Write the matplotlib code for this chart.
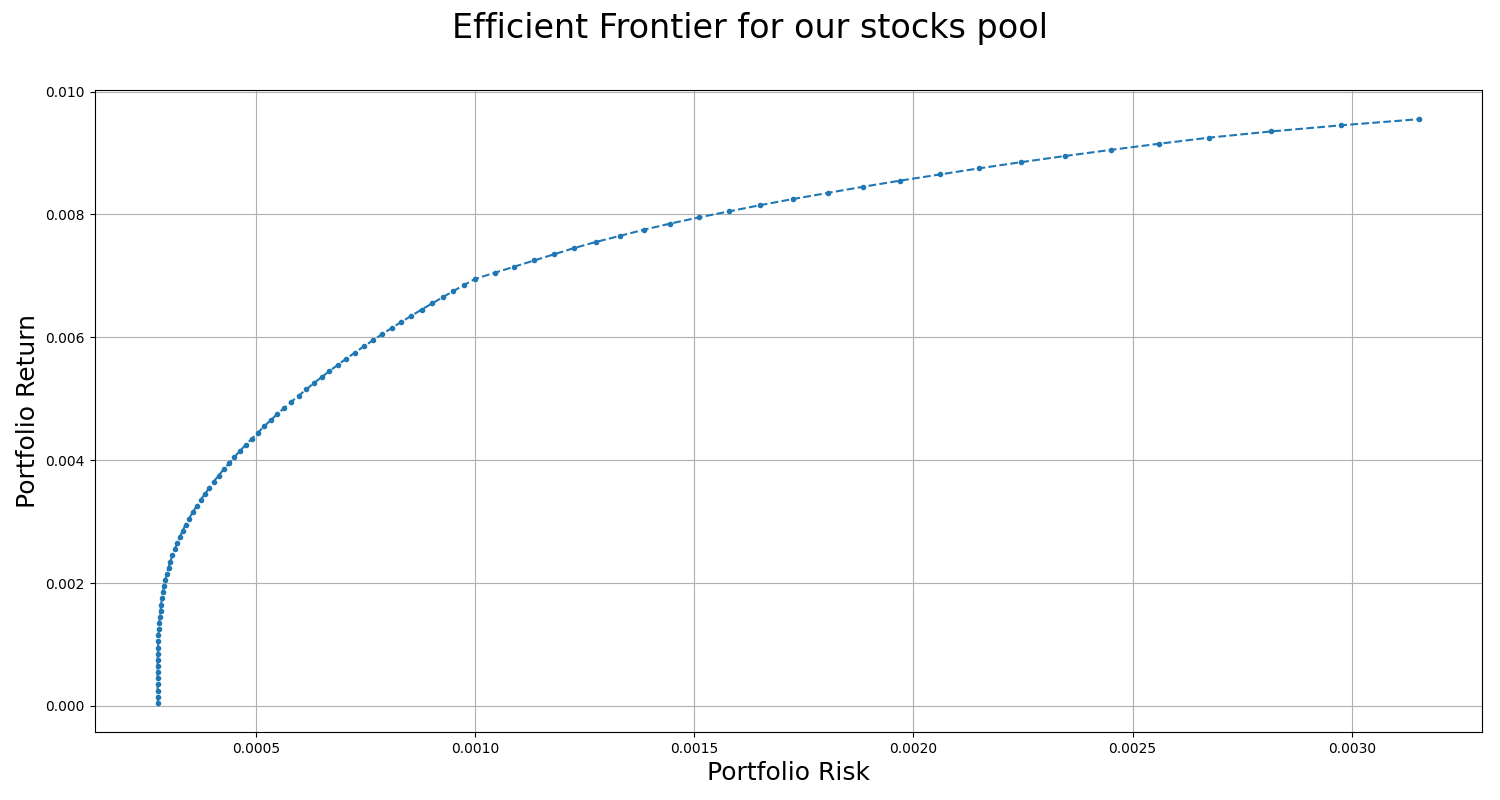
import matplotlib
matplotlib.use("Agg")
import matplotlib.pyplot as plt

# portfolio returns (evenly stepped targets of the optimiser)
returns = [
    0.00005, 0.00015, 0.00025, 0.00035, 0.00045, 0.00055, 0.00065, 0.00075, 0.00085, 0.00095,
    0.00105, 0.00115, 0.00125, 0.00135, 0.00145, 0.00155, 0.00165, 0.00175, 0.00185, 0.00195,
    0.00205, 0.00215, 0.00225, 0.00235, 0.00245, 0.00255, 0.00265, 0.00275, 0.00285, 0.00295,
    0.00305, 0.00315, 0.00325, 0.00335, 0.00345, 0.00355, 0.00365, 0.00375, 0.00385, 0.00395,
    0.00405, 0.00415, 0.00425, 0.00435, 0.00445, 0.00455, 0.00465, 0.00475, 0.00485, 0.00495,
    0.00505, 0.00515, 0.00525, 0.00535, 0.00545, 0.00555, 0.00565, 0.00575, 0.00585, 0.00595,
    0.00605, 0.00615, 0.00625, 0.00635, 0.00645, 0.00655, 0.00665, 0.00675, 0.00685, 0.00695,
    0.00705, 0.00715, 0.00725, 0.00735, 0.00745, 0.00755, 0.00765, 0.00775, 0.00785, 0.00795,
    0.00805, 0.00815, 0.00825, 0.00835, 0.00845, 0.00855, 0.00865, 0.00875, 0.00885, 0.00895,
    0.00905, 0.00915, 0.00925, 0.00935, 0.00945, 0.00955,
]

risks = [
    0.000277, 0.000276, 0.000276, 0.000276, 0.000276, 0.000276, 0.000276, 0.000276, 0.000277, 0.000277,
    0.000278, 0.000278, 0.000279, 0.000280, 0.000281,
    0.000283, 0.000284, 0.000286, 0.000288, 0.000291,
    0.000294, 0.000297, 0.000301, 0.000305, 0.000310,
    0.000315, 0.000321, 0.000327, 0.000333, 0.000340,
    0.000348, 0.000356, 0.000365, 0.000374, 0.000384,
    0.000394, 0.000404, 0.000415, 0.000427, 0.000439,
    0.000451, 0.000464, 0.000477, 0.000491, 0.000505,
    0.000519, 0.000534, 0.000549, 0.000565, 0.000581,
    0.000598, 0.000615, 0.000632, 0.000650, 0.000668,
    0.000687, 0.000706, 0.000726, 0.000746, 0.000767,
    0.000788, 0.000810, 0.000832, 0.000855, 0.000878,
    0.000902, 0.000926, 0.000950, 0.000975, 0.001000,
    0.001045, 0.001090, 0.001135, 0.001180, 0.001225,
    0.001275, 0.001330, 0.001385, 0.001445, 0.001510,
    0.001580, 0.001650, 0.001725, 0.001805, 0.001885,
    0.001970, 0.002060, 0.002150, 0.002245, 0.002345,
    0.002450, 0.002560, 0.002675, 0.002815, 0.002975, 0.003153,
]


def main():
    fig, ax = plt.subplots(figsize=(15, 8), dpi=100)
    ax.plot(risks, returns, linestyle="--", marker=".", color="#1f77b4")
    ax.set_xlabel("Portfolio Risk", fontsize=18)
    ax.set_ylabel("Portfolio Return", fontsize=18)
    fig.suptitle("Efficient Frontier for our stocks pool", fontsize=24, y=0.985)
    ax.grid(True)
    fig.subplots_adjust(left=0.063, right=0.988, top=0.8875, bottom=0.085)
    fig.savefig("out.png")


if __name__ == "__main__":
    main()
